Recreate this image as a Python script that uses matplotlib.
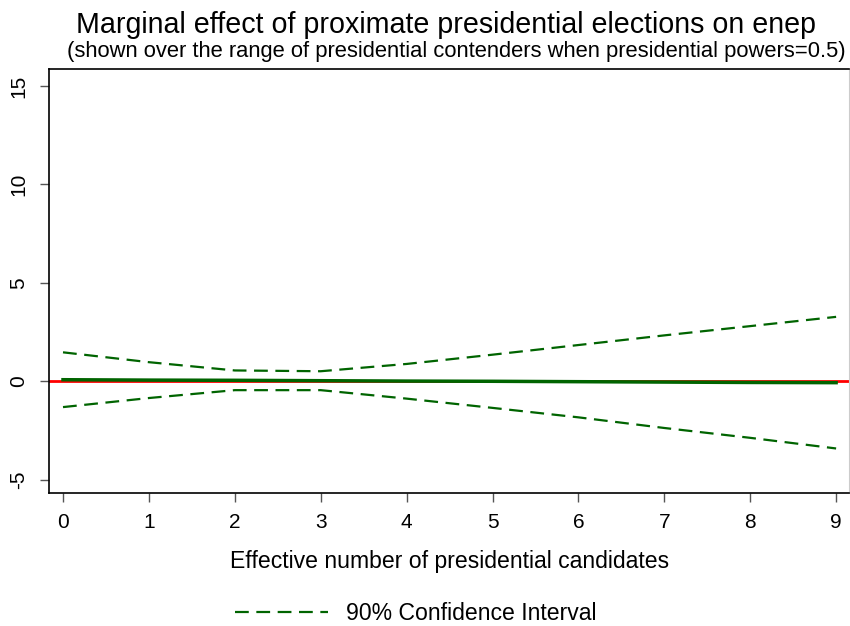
import numpy as np
import matplotlib.pyplot as plt

plt.rcParams['font.family'] = ['Liberation Sans', 'DejaVu Sans']
plt.rcParams['axes.unicode_minus'] = False

# effective number of presidential candidates
enpres = [0, 1, 2, 3, 4, 5, 6, 7, 8, 9]
# marginal effect and 90% bounds
effect = [0.09, 0.07, 0.06, 0.04, 0.02, 0.01, -0.01, -0.03, -0.05, -0.06]
upper = [1.48, 0.98, 0.56, 0.52, 0.89, 1.36, 1.85, 2.34, 2.81, 3.28]
lower = [-1.30, -0.84, -0.44, -0.44, -0.87, -1.34, -1.82, -2.36, -2.86, -3.40]

green = '#006400'
H = 626.0

fig = plt.figure(figsize=(8.5, 6.26), dpi=100)
ax = fig.add_axes([49/850, 1 - 493/H, 800/850, 424/H])

ax.axhline(0, color='red', lw=2, zorder=1)
ax.plot(enpres, effect, color=green, lw=2.5, zorder=2)
ci, = ax.plot(enpres, upper, color=green, lw=1.6, dashes=(6.2, 3.4),
              label="90% Confidence Interval")
ax.plot(enpres, lower, color=green, lw=1.6, dashes=(6.2, 3.4))

ax.set_xlim(-0.163, 9.15)
ax.set_ylim(-5.66, 15.86)
ax.set_xticks(range(10))
ax.set_yticks([-5, 0, 5, 10, 15])
ax.tick_params(axis='both', labelsize=15, length=6.5, width=1, color='#555555')
ax.tick_params(axis='x', pad=8)
ax.tick_params(axis='y', pad=8.5)
for lab in ax.get_yticklabels():
    lab.set_rotation(90)
    lab.set_va('center')

for s in ['left', 'bottom', 'top']:
    ax.spines[s].set_linewidth(1.2)
    ax.spines[s].set_color('black')
ax.spines['right'].set_color('#cccccc')

fig.text(449.5/850, 1 - 568/H, "Effective number of presidential candidates",
         ha='center', va='baseline', fontsize=16.6)

fig.text(446.5/850, 1 - 33/H, "Marginal effect of proximate presidential elections on enep",
         ha='center', va='baseline', fontsize=20.6)
fig.text(456/850, 1 - 57/H,
         "(shown over the range of presidential contenders when presidential powers=0.5)",
         ha='center', va='baseline', fontsize=15.8)

fig.legend(handles=[ci], loc='center', bbox_to_anchor=(416/850, 1 - 614/H),
           frameon=False, fontsize=16.6, handlelength=4.0, handletextpad=0.8,
           borderpad=0, borderaxespad=0)

fig.savefig('out.png', dpi=100)
